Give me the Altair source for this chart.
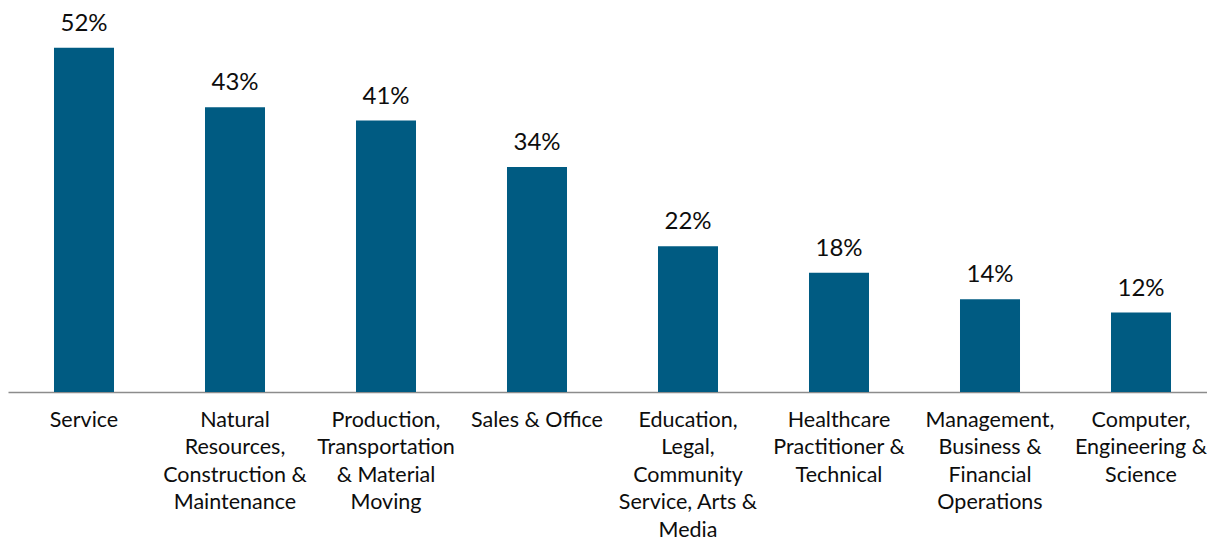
import altair as alt
import pandas as pd

categories = [
    "Service",
    "Natural|Resources,|Construction &|Maintenance",
    "Production,|Transportation|& Material|Moving",
    "Sales & Office",
    "Education,|Legal,|Community|Service, Arts &|Media",
    "Healthcare|Practitioner &|Technical",
    "Management,|Business &|Financial|Operations",
    "Computer,|Engineering &|Science",
]
values = [52, 43, 41, 34, 22, 18, 14, 12]
labels = ["52%", "43%", "41%", "34%", "22%", "18%", "14%", "12%"]

df = pd.DataFrame({"cat": categories, "val": values, "lab": labels})

FONT = "Lato"
x = alt.X(
    "cat:N",
    sort=categories,
    title=None,
    scale=alt.Scale(paddingInner=0.6026, paddingOuter=0.2715, align=0.561),
    axis=alt.Axis(
        labelExpr="split(datum.label, '|')",
        labelAngle=0,
        labelFont=FONT,
        labelFontSize=21.5,
        labelColor="#0d0d0d",
        labelLineHeight=27.5,
        labelPadding=17,
        labelBaseline="top",
        labelLimit=300,
        ticks=False,
        domainColor="#8c8c8c",
        domainWidth=1.5,
        grid=False,
    ),
)
y = alt.Y("val:Q", title=None, scale=alt.Scale(domain=[0, 58], nice=False), axis=None)

bars = alt.Chart(df).mark_bar(color="#005B82").encode(x=x, y=y)
text = alt.Chart(df).mark_text(
    font=FONT, fontSize=24, color="#0d0d0d", baseline="alphabetic", dy=-17
).encode(x=x, y=y, text="lab:N")

chart = (
    alt.layer(bars, text)
    .properties(
        width=1199,
        height=384,
        padding={"left": 0, "top": 0, "right": 0, "bottom": 152},
        autosize=alt.AutoSizeParams(type="none"),
    )
    .configure_view(stroke=None)
)
chart.save("out.html", embed_options={"renderer": "svg", "actions": False})
